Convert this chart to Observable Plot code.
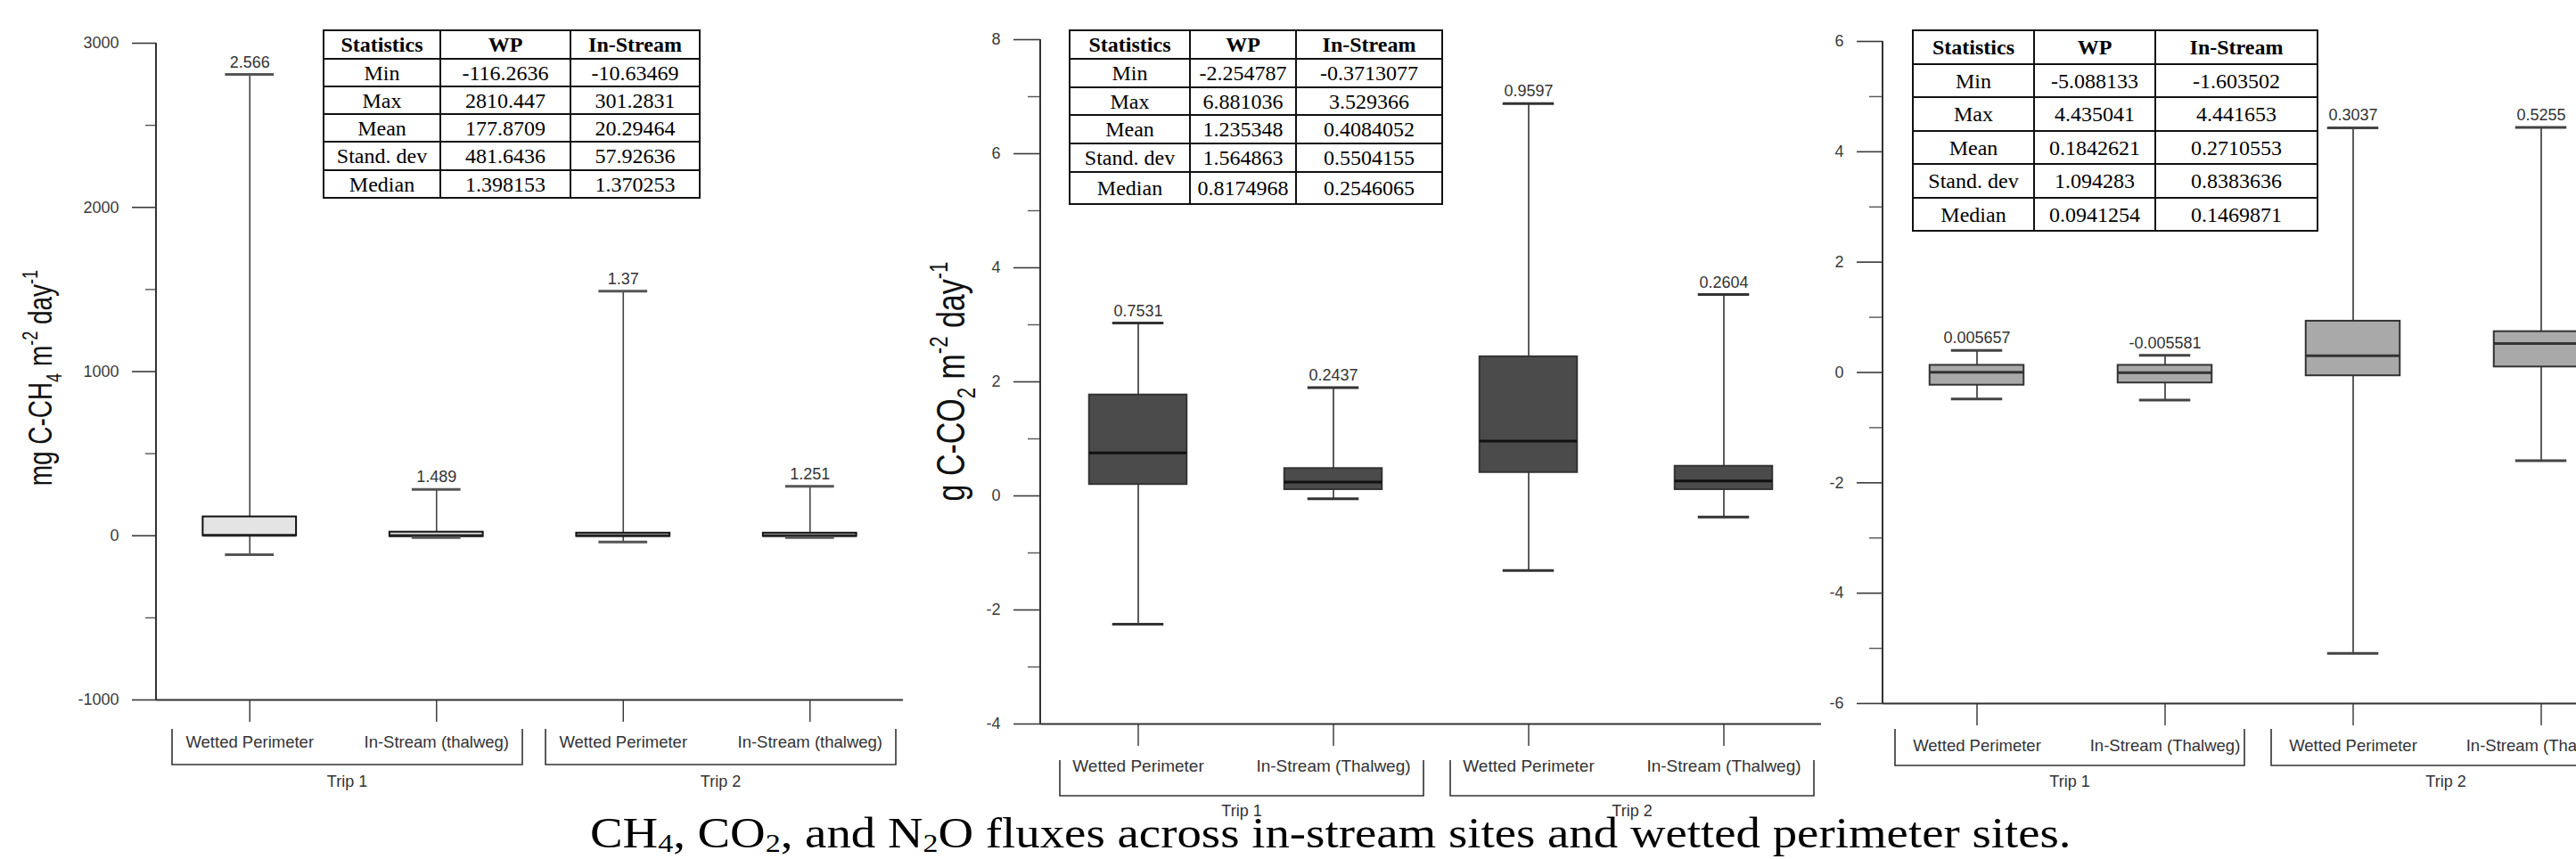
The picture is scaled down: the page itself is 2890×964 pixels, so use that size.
<!DOCTYPE html>
<html>
<head>
<meta charset="utf-8">
<script src="https://cdn.jsdelivr.net/npm/d3@7"></script>
<script src="https://cdn.jsdelivr.net/npm/@observablehq/plot@0.6"></script>
<style>
  html, body { margin: 0; padding: 0; background: #fff; overflow: hidden; }
  #root { position: relative; width: 2890px; height: 964px; overflow: hidden; background: #fff; }
  .panel { position: absolute; top: 0; }
  table.stats { position: absolute; border-collapse: collapse; table-layout: fixed;
    font-family: "Liberation Serif", "Times New Roman", serif; font-size: 24px; color: #000; background: #fff; }
  table.stats th, table.stats td { border: 2px solid #111; text-align: center; padding: 0; line-height: 1; vertical-align: middle; white-space: nowrap; }
  table.stats th { font-weight: bold; }
  #caption { position: absolute; top: 911px; left: 662px; white-space: nowrap;
    font-family: "Liberation Serif", "Times New Roman", serif; font-size: 48px; line-height: 48px; color: #000;
    transform: scaleX(1.142); transform-origin: 0 0; }
  #caption sub { font-size: 0.62em; vertical-align: -0.18em; line-height: 0; }
</style>
</head>
<body>
<div id="root"></div>
<script>
// ---------------- data ----------------
const trips = ["Trip 1", "Trip 2"];
const siteTrip = ["Trip 1", "Trip 1", "Trip 2", "Trip 2"];
const siteKeys = [0, 1, 2, 3];

const ch4Sites = ["Wetted Perimeter", "In-Stream (thalweg)", "Wetted Perimeter", "In-Stream (thalweg)"];
const ch4Min = [-116, -10.6, -38, -10.6];
const ch4Q1 = [0, -5, -4, -4];
const ch4Median = [2.566, 1.489, 1.37, 1.251];
const ch4Q3 = [115, 22, 16, 16];
const ch4Max = [2810, 282, 1490, 301];
const ch4MajorTicks = [-1000, 0, 1000, 2000, 3000];
const ch4MinorTicks = [-500, 500, 1500, 2500];

const co2Sites = ["Wetted Perimeter", "In-Stream (Thalweg)", "Wetted Perimeter", "In-Stream (Thalweg)"];
const co2Min = [-2.25, -0.05, -1.31, -0.37];
const co2Q1 = [0.2, 0.11, 0.41, 0.11];
const co2Median = [0.7531, 0.2437, 0.9597, 0.2604];
const co2Q3 = [1.77, 0.48, 2.44, 0.52];
const co2Max = [3.03, 1.9, 6.88, 3.53];
const co2MajorTicks = [-4, -2, 0, 2, 4, 6, 8];
const co2MinorTicks = [-3, -1, 1, 3, 5, 7];

const n2oSites = ["Wetted Perimeter", "In-Stream (Thalweg)", "Wetted Perimeter", "In-Stream (Thalweg)"];
const n2oMin = [-0.48, -0.5, -5.09, -1.6];
const n2oQ1 = [-0.23, -0.19, -0.06, 0.1];
const n2oMedian = [0.005657, -0.005581, 0.3037, 0.5255];
const n2oQ3 = [0.13, 0.13, 0.93, 0.74];
const n2oMax = [0.4, 0.31, 4.435, 4.44];
const n2oMajorTicks = [-6, -4, -2, 0, 2, 4, 6];
const n2oMinorTicks = [-5, -3, -1, 1, 3, 5];

const statHeader = ["Statistics", "WP", "In-Stream"];
const statNames = ["Min", "Max", "Mean", "Stand. dev", "Median"];
const ch4StatWP = ["-116.2636", "2810.447", "177.8709", "481.6436", "1.398153"];
const ch4StatIS = ["-10.63469", "301.2831", "20.29464", "57.92636", "1.370253"];
const co2StatWP = ["-2.254787", "6.881036", "1.235348", "1.564863", "0.8174968"];
const co2StatIS = ["-0.3713077", "3.529366", "0.4084052", "0.5504155", "0.2546065"];
const n2oStatWP = ["-5.088133", "4.435041", "0.1842621", "1.094283", "0.0941254"];
const n2oStatIS = ["-1.603502", "4.441653", "0.2710553", "0.8383636", "0.1469871"];

const ch4Title = [["mg C-CH", "n"], ["4", "sub"], [" m", "n"], ["-2", "sup"], [" day", "n"], ["-1", "sup"]];
const co2Title = [["g C-CO", "n"], ["2", "sub"], [" m", "n"], ["-2", "sup"], [" day", "n"], ["-1", "sup"]];
const captionHTML = "CH<sub>4</sub>, CO<sub>2</sub>, and N<sub>2</sub>O fluxes across in-stream sites and wetted perimeter sites.";

// ---------------- layout ----------------
const panels = [
  { sites: ch4Sites, min: ch4Min, q1: ch4Q1, med: ch4Median, q3: ch4Q3, max: ch4Max,
    major: ch4MajorTicks, minor: ch4MinorTicks, domain: [-1000, 3000],
    left: 0, width: 1030, ml: 175, mr: 17, mt: 48, mb: 179,
    fill: "#e4e4e4", boxStroke: "#111", medStroke: "#222", cap: "#555", whisker: "#444",
    xfs: 18.5, tickMajor: 27, tickMinor: 12, capInset: 25,
    bTop: 33, bBot: 73, tripY: 92, inL: 18, inR: 8,
    title: ch4Title, titleX: 58, titleY: 424, titleFs: 30, titleScale: [0.93, 1.25],
    table: { wp: ch4StatWP, is: ch4StatIS, left: 362, top: 33, cols: [131, 146, 145], rows: [32, 31, 31, 31, 32, 31] } },
  { sites: co2Sites, min: co2Min, q1: co2Q1, med: co2Median, q3: co2Q3, max: co2Max,
    major: co2MajorTicks, minor: co2MinorTicks, domain: [-4, 8],
    left: 1030, width: 1030, ml: 137, mr: 17, mt: 44, mb: 152,
    fill: "#4b4b4b", boxStroke: "#333", medStroke: "#111", cap: "#333", whisker: "#333",
    xfs: 19, tickMajor: 30, tickMinor: 14, capInset: 26,
    bTop: 41, bBot: 81, tripY: 98, inL: 22, inR: 8,
    title: co2Title, titleX: 52, titleY: 428, titleFs: 34, titleScale: [1.0, 1.3],
    table: { wp: co2StatWP, is: co2StatIS, left: 1199, top: 33, cols: [135, 119, 164], rows: [32, 32, 31, 32, 32, 36] } },
  { sites: n2oSites, min: n2oMin, q1: n2oQ1, med: n2oMedian, q3: n2oQ3, max: n2oMax,
    major: n2oMajorTicks, minor: n2oMinorTicks, domain: [-6, 6],
    left: 2040, width: 920, ml: 72, mr: 4, mt: 46, mb: 175,
    fill: "#a9a9a9", boxStroke: "#333", medStroke: "#333", cap: "#444", whisker: "#333",
    xfs: 18.5, tickMajor: 29, tickMinor: 15, capInset: 24,
    bTop: 29, bBot: 70, tripY: 88, inL: 14, inR: 16,
    title: null,
    table: { wp: n2oStatWP, is: n2oStatIS, left: 2145, top: 33, cols: [136, 136, 182], rows: [38, 37, 38, 37, 38, 37] } }
];

const root = document.getElementById("root");

function addTitle(svg, parts, x, y, fs, sc) {
  const t = svg.append("text")
    .attr("transform", `translate(${x},${y}) rotate(-90) scale(${sc[0]},${sc[1]})`)
    .attr("text-anchor", "middle")
    .attr("font-size", fs)
    .attr("fill", "#111")
    .attr("font-family", "'Liberation Sans', Arial, sans-serif");
  let cur = 0;
  for (const [s, kind] of parts) {
    const want = kind === "sub" ? fs * 0.28 : kind === "sup" ? -fs * 0.42 : 0;
    const ts = t.append("tspan").text(s).attr("dy", want - cur);
    if (kind !== "n") ts.attr("font-size", fs * 0.65);
    cur = want;
  }
}

for (const p of panels) {
  const rows = siteKeys.map(k => ({ k, min: p.min[k], q1: p.q1[k], med: p.med[k], q3: p.q3[k], max: p.max[k], label: String(p.med[k]) }));
  const plot = Plot.plot({
    width: p.width, height: 964,
    marginLeft: p.ml, marginRight: p.mr, marginTop: p.mt, marginBottom: p.mb,
    style: { fontFamily: "'Liberation Sans', Arial, sans-serif", fontSize: "18px", background: "transparent", overflow: "visible", color: "#3a3a3a" },
    x: { type: "band", domain: siteKeys, paddingInner: 0.5, paddingOuter: 0.25, round: false, label: null },
    y: { domain: p.domain, label: null },
    marks: [
      Plot.ruleY([p.domain[0]], { stroke: "#333", strokeWidth: 2 }),
      Plot.axisY(p.major, { tickSize: p.tickMajor, tickPadding: 15, tickFormat: d => String(d), label: null, color: "#3a3a3a", strokeWidth: 1.6, fontSize: 18 }),
      Plot.axisY(p.minor, { tickSize: p.tickMinor, tickFormat: () => "", label: null, color: "#555", strokeWidth: 1.4 }),
      Plot.axisX({ tickSize: 25, tickPadding: 15, tickFormat: k => p.sites[k], label: null, color: "#333", strokeWidth: 1.4, fontSize: p.xfs }),
      Plot.ruleX(rows, { x: "k", y1: "min", y2: "max", stroke: p.whisker, strokeWidth: 1.6 }),
      Plot.barY(rows, { x: "k", y1: "q1", y2: "q3", fill: p.fill, stroke: p.boxStroke, strokeWidth: 2 }),
      Plot.tickY(rows, { x: "k", y: "med", stroke: p.medStroke, strokeWidth: 3 }),
      Plot.tickY(rows, { x: "k", y: "max", stroke: p.cap, strokeWidth: 3, insetLeft: p.capInset, insetRight: p.capInset }),
      Plot.tickY(rows, { x: "k", y: "min", stroke: p.cap, strokeWidth: 3, insetLeft: p.capInset, insetRight: p.capInset }),
      Plot.text(rows, { x: "k", y: "max", text: "label", lineAnchor: "bottom", dy: -8, fill: "#333", fontSize: 18 })
    ]
  });
  plot.classList.add("panel");
  plot.style.left = p.left + "px";
  root.appendChild(plot);

  const svg = d3.select(plot);
  const sx = plot.scale("x");
  const sy = plot.scale("y");
  const yTop = sy.apply(p.domain[1]);
  const yBot = sy.apply(p.domain[0]);
  const xLeft = sx.range[0];
  // y axis line
  svg.append("line").attr("x1", xLeft).attr("x2", xLeft).attr("y1", yTop).attr("y2", yBot)
    .attr("stroke", "#333").attr("stroke-width", 2);
  // trip brackets
  const center = k => sx.apply(k) + sx.bandwidth / 2;
  const g = svg.append("g").attr("fill", "none").attr("stroke", "#333").attr("stroke-width", 1.6);
  for (const trip of trips) {
    const ks = siteKeys.filter(k => siteTrip[k] === trip);
    const x1 = center(ks[0]) - sx.step / 2 + p.inL;
    const x2 = center(ks[ks.length - 1]) + sx.step / 2 - p.inR;
    g.append("path").attr("d", `M${x1},${yBot + p.bTop}V${yBot + p.bBot}H${x2}V${yBot + p.bTop}`);
    svg.append("text").attr("x", (x1 + x2) / 2).attr("y", yBot + p.tripY)
      .attr("text-anchor", "middle").attr("dominant-baseline", "central")
      .attr("font-size", 18).attr("fill", "#333").text(trip);
  }
  if (p.title) addTitle(svg, p.title, p.titleX, p.titleY, p.titleFs, p.titleScale);

  // statistics table
  const tb = d3.select(root).append("table").attr("class", "stats")
    .style("left", p.table.left + "px").style("top", p.table.top + "px")
    .style("width", d3.sum(p.table.cols) + "px");
  const cg = tb.append("colgroup");
  p.table.cols.forEach(w => cg.append("col").style("width", w + "px"));
  const hr = tb.append("tr").style("height", p.table.rows[0] + "px");
  statHeader.forEach(h => hr.append("th").text(h));
  statNames.forEach((n, i) => {
    const r = tb.append("tr").style("height", p.table.rows[i + 1] + "px");
    [n, p.table.wp[i], p.table.is[i]].forEach(v => r.append("td").text(v));
  });
}

const cap = document.createElement("div");
cap.id = "caption";
cap.innerHTML = captionHTML;
root.appendChild(cap);
</script>
</body>
</html>
